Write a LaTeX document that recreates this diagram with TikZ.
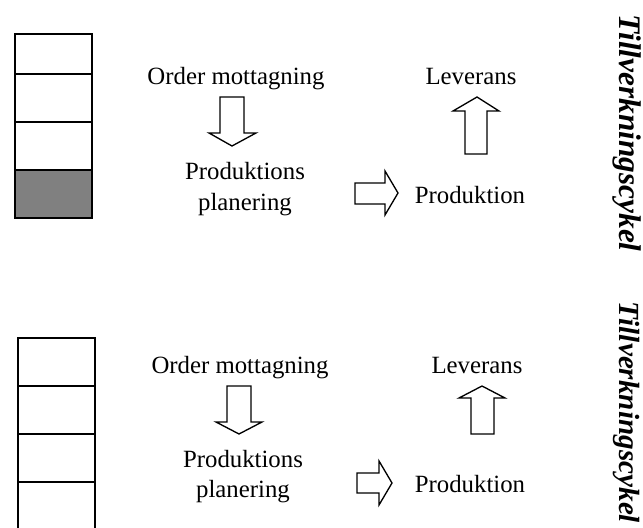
\documentclass[tikz,border=0pt]{standalone}
\usepackage{fontspec}
\setmainfont{Liberation Serif}
\begin{document}
\begin{tikzpicture}[x=0.75pt,y=-0.75pt,
  cell/.style={draw=black,line width=1.3pt},
  cellthin/.style={draw=black,line width=1.0pt},
  blockarrow/.style={draw=black,fill=white,line width=1.0pt,line join=miter},
  lbl/.style={inner sep=0pt,anchor=base,font=\fontsize{18.6}{22.5}\selectfont},
  side/.style={inner sep=0pt,rotate=-90,anchor=base,font=\fontsize{23.5}{28}\selectfont\bfseries\itshape}]
\useasboundingbox (0,0) rectangle (643,528);
\clip (0,0) rectangle (643,528);

% ---------- upper cycle ----------
\draw[cell] (15,34) rectangle (92,74);
\draw[cell] (15,74) rectangle (92,122);
\draw[cell] (15,122) rectangle (92,170);
\draw[cell,fill=black!50] (15,170) rectangle (92,218);

\node[lbl] (om1) at (236,85) {Order mottagning};
\node[lbl] (lev1) at (471,85) {Leverans};
\node[lbl] (pp1a) at (245,180) {Produktions};
\node[lbl] (pp1b) at (245,210) {planering};
\node[lbl] (pr1) at (470,203) {Produktion};

% down arrow
\draw[blockarrow] (220,97) -- (244,97) -- (244,133) -- (256,133) -- (232,146)
  -- (209,133) -- (220,133) -- cycle;
% right arrow
\draw[blockarrow] (355,183) -- (385,183) -- (385,171) -- (398,193) -- (385,215)
  -- (385,204) -- (355,204) -- cycle;
% up arrow
\draw[blockarrow] (465,154) -- (465,111) -- (453,111) -- (477,97) -- (499,111)
  -- (487,111) -- (487,154) -- cycle;

\node[side] (t1) at (619,133) {Tillverkningscykel};

% ---------- lower cycle ----------
\draw[cellthin] (18,338) rectangle (95,386);
\draw[cellthin] (18,386) rectangle (95,434);
\draw[cellthin] (18,434) rectangle (95,482);
\draw[cellthin] (18,482) rectangle (95,540);

\node[lbl] (om2) at (240,373) {Order mottagning};
\node[lbl] (lev2) at (477,373) {Leverans};
\node[lbl] (pp2a) at (243,467) {Produktions};
\node[lbl] (pp2b) at (243,497) {planering};
\node[lbl] (pr2) at (470,492) {Produktion};

% down arrow
\draw[blockarrow] (227,386) -- (251,386) -- (251,422) -- (262,422) -- (239,434)
  -- (216,422) -- (227,422) -- cycle;
% right arrow
\draw[blockarrow] (357,473) -- (379,473) -- (379,461) -- (392,483) -- (379,505)
  -- (379,493) -- (357,493) -- cycle;
% up arrow
\draw[blockarrow] (471,434) -- (471,398) -- (459,398) -- (482,386) -- (505,398)
  -- (494,398) -- (494,434) -- cycle;

\node[side,font=\fontsize{21.9}{26}\selectfont\bfseries\itshape] (t2) at (619,412.5) {Tillverkningscykel};
\end{tikzpicture}
\end{document}
